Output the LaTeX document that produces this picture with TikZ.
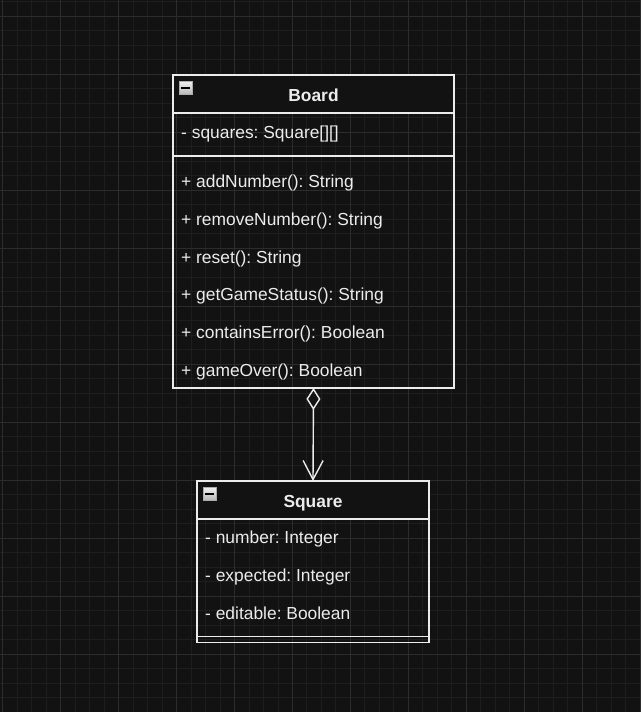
\documentclass[tikz,border=0pt]{standalone}
\usepackage{fontspec}
\setmainfont{Liberation Sans}
\usetikzlibrary{arrows.meta}
\definecolor{bg}{RGB}{18,18,18}
\definecolor{gminor}{RGB}{30,30,30}
\definecolor{gmajor}{RGB}{44,44,44}
\definecolor{fg}{RGB}{236,236,236}
\frenchspacing
\begin{document}
\begin{tikzpicture}[x=1pt,y=-1pt,
  classbox/.style={draw=fg,line width=1.4pt,anchor=north west,inner sep=0pt,outer sep=0pt},
  txt/.style={anchor=base west,inner sep=0pt,text=fg,font=\fontsize{17.4}{20}\selectfont},
  ctitle/.style={anchor=base,inner sep=0pt,text=fg,font=\fontsize{17.4}{20}\selectfont\bfseries},
  sepline/.style={draw=fg,line width=1.4pt},
  iconbox/.style={top color=gray!12,bottom color=gray!55,draw=gray!65,line width=0.6pt},
  icondash/.style={draw=black,line width=1.6pt},
  assoc/.style={draw=fg,line width=1.4pt,
    {Diamond[open,length=22pt,width=14pt]}-{Straight Barb[length=19pt,width=20pt]}}]
% background and grid
\useasboundingbox (0,0) rectangle (641,712);
\fill[bg] (0,0) rectangle (641,712);
\foreach \i in {0,...,44} \draw[gminor,line width=1pt] ({2.7+14.49*\i},0) -- ({2.7+14.49*\i},712);
\foreach \j in {0,...,49} \draw[gminor,line width=1pt] (0,{1.5+14.5*\j}) -- (641,{1.5+14.5*\j});
\foreach \i in {0,...,11} \draw[gmajor,line width=1pt] ({2.7+57.96*\i},0) -- ({2.7+57.96*\i},712);
\foreach \j in {0,...,11} \draw[gmajor,line width=1pt] (0,{16+58*\j}) -- (641,{16+58*\j});
% header fills
\fill[bg] (173,75) rectangle (454,113);
\fill[bg] (197,481) rectangle (429,519);
% Board class
\node[classbox,minimum width=281pt,minimum height=313pt] (board) at (173,75) {};
\draw[sepline] (173,113) -- (454,113);
\draw[sepline] (173,156) -- (454,156);
\shade[iconbox] (179,81.5) rectangle (192,94);
\draw[icondash] (181,87.75) -- (190,87.75);
\node[ctitle] (boardt) at (313.5,101) {Board};
\node[txt] (ba1) at (181,138.5) {- squares: Square[][]};
\node[txt] (bm1) at (181,187.6) {+ addNumber(): String};
\node[txt] (bm2) at (181,225.3) {+ removeNumber(): String};
\node[txt] (bm3) at (181,263.0) {+ reset(): String};
\node[txt] (bm4) at (181,300.7) {+ getGameStatus(): String};
\node[txt] (bm5) at (181,338.4) {+ containsError(): Boolean};
\node[txt] (bm6) at (181,376.1) {+ gameOver(): Boolean};
% Square class
\node[classbox,minimum width=232pt,minimum height=161.5pt] (square) at (197,481) {};
\draw[sepline] (197,519) -- (429,519);
\draw[sepline] (197,636.5) -- (429,636.5);
\shade[iconbox] (203.3,487.5) rectangle (216.3,500);
\draw[icondash] (205.3,493.75) -- (214.3,493.75);
\node[ctitle] (squaret) at (313,507) {Square};
\node[txt] (sa1) at (205,543.5) {- number: Integer};
\node[txt] (sa2) at (205,581.2) {- expected: Integer};
\node[txt] (sa3) at (205,619.0) {- editable: Boolean};
% aggregation
\draw[assoc] (board.south) -- (square.north);
\end{tikzpicture}
\end{document}
